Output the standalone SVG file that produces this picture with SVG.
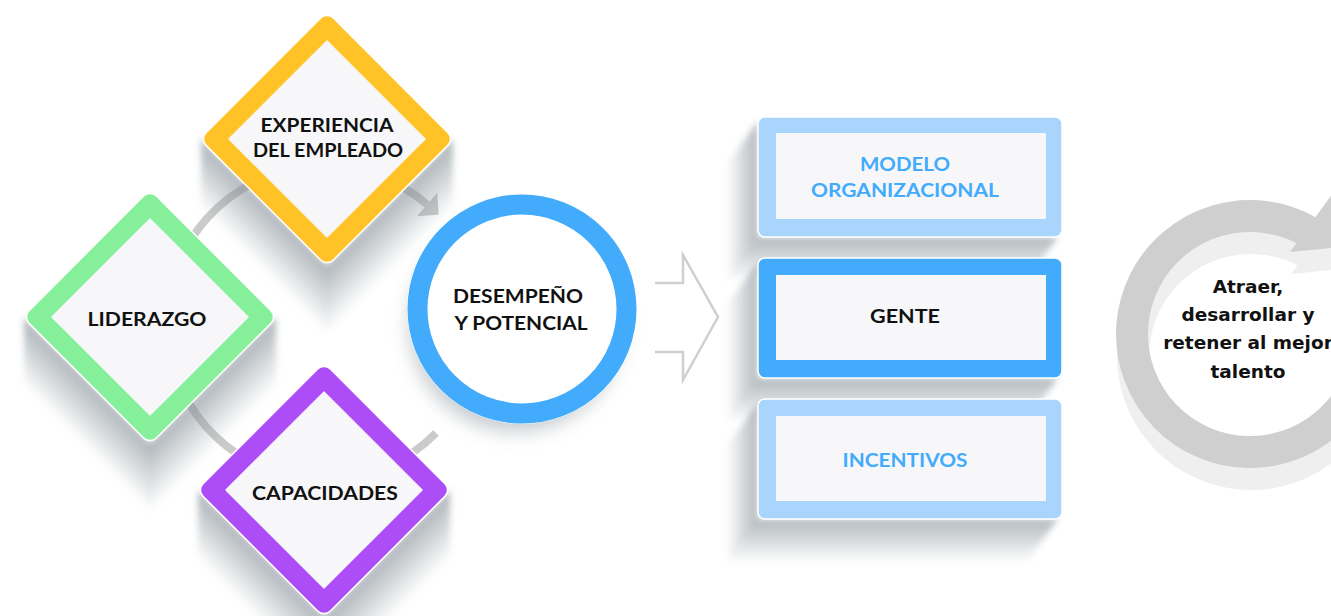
<svg xmlns="http://www.w3.org/2000/svg" width="1331" height="616" viewBox="0 0 1331 616">
<defs>
<style>
.lbl{font-family:Lato,"Liberation Sans",sans-serif;font-weight:700;font-size:19px;fill:#111;text-anchor:middle}
.btx{font-family:Lato,"Liberation Sans",sans-serif;font-weight:700;font-size:19.5px;text-anchor:middle}
.blue{fill:#42abfc}
.dark{fill:#111}
.rtxt{font-family:"DejaVu Sans",Verdana,sans-serif;font-weight:700;font-size:18.5px;fill:#111;text-anchor:middle}
.inner{fill:#f7f7fa}
.conn{fill:none;stroke:#cbcbcb;stroke-width:8}
.edge{stroke:#fff;stroke-width:1.5}
</style>
<filter id="soft" x="-30%" y="-30%" width="160%" height="160%"><feGaussianBlur stdDeviation="3"/></filter>
<filter id="soft2" x="-30%" y="-30%" width="160%" height="160%"><feGaussianBlur stdDeviation="6"/></filter>
<linearGradient id="dshL" gradientUnits="userSpaceOnUse" x1="-62" y1="62" x2="-98" y2="98"><stop offset="0" stop-color="#7f8a91" stop-opacity="0.65"/><stop offset="1" stop-color="#7f8a91" stop-opacity="0"/></linearGradient>
<linearGradient id="dshR" gradientUnits="userSpaceOnUse" x1="62" y1="62" x2="98" y2="98"><stop offset="0" stop-color="#7f8a91" stop-opacity="0.65"/><stop offset="1" stop-color="#7f8a91" stop-opacity="0"/></linearGradient>
<linearGradient id="rshL" gradientUnits="userSpaceOnUse" x1="0" y1="0" x2="-32" y2="0"><stop offset="0" stop-color="#7f8a91" stop-opacity="0.6"/><stop offset="1" stop-color="#7f8a91" stop-opacity="0"/></linearGradient>
<linearGradient id="rshB" gradientUnits="userSpaceOnUse" x1="0" y1="120" x2="0" y2="164"><stop offset="0" stop-color="#7f8a91" stop-opacity="0.6"/><stop offset="1" stop-color="#7f8a91" stop-opacity="0"/></linearGradient>
<radialGradient id="csh" cx="0.5" cy="0.5" r="0.5"><stop offset="0.8" stop-color="#7f8a91" stop-opacity="0.45"/><stop offset="1" stop-color="#7f8a91" stop-opacity="0"/></radialGradient>
<g id="dshadow" filter="url(#soft)">
<polygon points="-126,0 0,126 0,198 -126,72" fill="url(#dshL)"/>
<polygon points="0,126 126,0 126,72 0,198" fill="url(#dshR)"/>
</g>
<g id="rshadow" filter="url(#soft)">
<polygon points="0,4 0,120 -32,164 -32,48" fill="url(#rshL)"/>
<polygon points="0,120 300,120 268,164 -32,164" fill="url(#rshB)"/>
</g>
</defs>
<rect width="1331" height="616" fill="#fff"/>

<g id="connectors">
<path class="conn" d="M436,433 A157,157 0 1 1 427,204.5"/>
<polygon points="438.7,214.7 437.2,192.8 416.8,216.2" fill="#cbcbcb"/>
<path d="M655,283 H683 V255 L718,317 L683,380 V352 H655" fill="none" stroke="#cfcfcf" stroke-width="2.5" stroke-linejoin="miter"/>
</g>

<g id="experiencia" transform="translate(327,139)">
<use href="#dshadow"/>
<rect x="-90" y="-90" width="180" height="180" rx="9" fill="#ffc227" class="edge" transform="rotate(45)"/>
<rect x="-70" y="-70" width="140" height="140" rx="1" class="inner" transform="rotate(45)"/>
<text class="lbl" x="0" y="-7" textLength="133" lengthAdjust="spacingAndGlyphs">EXPERIENCIA</text>
<text class="lbl" x="1" y="18" textLength="150" lengthAdjust="spacingAndGlyphs">DEL EMPLEADO</text>
</g>

<g id="liderazgo" transform="translate(150,317)">
<use href="#dshadow"/>
<rect x="-90" y="-90" width="180" height="180" rx="9" fill="#86ef9a" class="edge" transform="rotate(45)"/>
<rect x="-70" y="-70" width="140" height="140" rx="1" class="inner" transform="rotate(45)"/>
<text class="lbl" x="-3" y="9" textLength="119" lengthAdjust="spacingAndGlyphs">LIDERAZGO</text>
</g>

<g id="capacidades" transform="translate(324,490)">
<use href="#dshadow"/>
<rect x="-90" y="-90" width="180" height="180" rx="9" fill="#ad4df7" class="edge" transform="rotate(45)"/>
<rect x="-70" y="-70" width="140" height="140" rx="1" class="inner" transform="rotate(45)"/>
<text class="lbl" x="1" y="10" textLength="146" lengthAdjust="spacingAndGlyphs">CAPACIDADES</text>
</g>

<g id="desempeno" transform="translate(522,309)">
<circle cx="-6" cy="16" r="118" fill="url(#csh)" filter="url(#soft2)"/>
<circle r="115" fill="#fff"/>
<circle r="104.5" fill="#fff" stroke="#42abfc" stroke-width="20"/>
<text class="lbl" x="-4" y="-6" textLength="130" lengthAdjust="spacingAndGlyphs">DESEMPEÑO</text>
<text class="lbl" x="-1" y="21" textLength="133" lengthAdjust="spacingAndGlyphs">Y POTENCIAL</text>
</g>

<g id="modelo" transform="translate(758,117)">
<use href="#rshadow"/>
<rect width="304" height="120" rx="7" fill="#a9d5fd" class="edge"/>
<rect x="18" y="16" width="270" height="86" class="inner"/>
<text class="btx blue" x="147" y="54" textLength="90" lengthAdjust="spacingAndGlyphs">MODELO</text>
<text class="btx blue" x="147" y="80" textLength="188" lengthAdjust="spacingAndGlyphs">ORGANIZACIONAL</text>
</g>

<g id="gente" transform="translate(758,258)">
<use href="#rshadow"/>
<rect width="304" height="120" rx="7" fill="#42abfc" class="edge"/>
<rect x="18" y="17" width="270" height="85" class="inner"/>
<text class="btx dark" x="147" y="65" textLength="70" lengthAdjust="spacingAndGlyphs">GENTE</text>
</g>

<g id="incentivos" transform="translate(758,399)">
<use href="#rshadow"/>
<rect width="304" height="120" rx="7" fill="#a9d5fd" class="edge"/>
<rect x="18" y="17" width="270" height="85" class="inner"/>
<text class="btx blue" x="147" y="68" textLength="125" lengthAdjust="spacingAndGlyphs">INCENTIVOS</text>
</g>

<g id="talento">
<g transform="translate(1,22)" fill="#efefef">
<path d="M1360.9,374.4 A118,118 0 1 1 1309,231.8" fill="none" stroke="#efefef" stroke-width="32"/>
<polygon points="1290,252 1338,186 1372,244"/>
</g>
<path d="M1360.9,374.4 A118,118 0 1 1 1309,231.8" fill="none" stroke="#cfcfcf" stroke-width="32"/>
<polygon points="1290,252 1338,186 1372,244" fill="#cfcfcf"/>
<text class="rtxt" x="1248" y="293">Atraer,</text>
<text class="rtxt" x="1248" y="321">desarrollar y</text>
<text class="rtxt" x="1248" y="349">retener al mejor</text>
<text class="rtxt" x="1248" y="378">talento</text>
</g>
</svg>
